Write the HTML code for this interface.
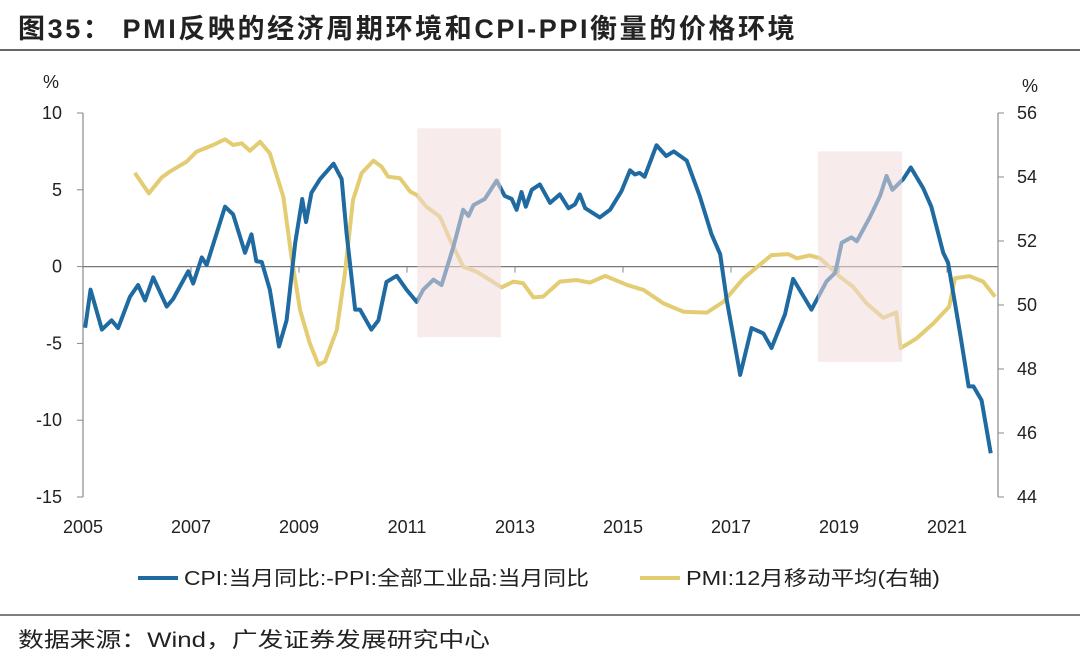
<!DOCTYPE html>
<html><head><meta charset="utf-8"><style>
body{margin:0;background:#fff;}
svg{display:block;font-family:"Liberation Sans","Noto Sans CJK SC",sans-serif;}
</style></head><body>
<svg id="c" width="1080" height="660" viewBox="0 0 1080 660">
<text x="18" y="38" font-size="27" font-weight="bold" fill="#222" letter-spacing="2.6">图35： PMI反映的经济周期环境和CPI-PPI衡量的价格环境</text>
<line x1="0" y1="50" x2="1080" y2="50" stroke="#333" stroke-width="1.5"/>
<text x="51" y="88" font-size="18" fill="#222" text-anchor="middle">%</text>
<text x="1030" y="92" font-size="18" fill="#222" text-anchor="middle">%</text>
<g id="axes"></g>
<g id="series"></g>
<g id="shades"></g>
<g>
<line x1="138" y1="578" x2="178" y2="578" stroke="#1f6aa0" stroke-width="4"/>
<text x="184" y="585" font-size="20" fill="#222" textLength="405" lengthAdjust="spacingAndGlyphs">CPI:当月同比:-PPI:全部工业品:当月同比</text>
<line x1="640" y1="578" x2="680" y2="578" stroke="#e3cc72" stroke-width="4"/>
<text x="686" y="585" font-size="20" fill="#222" textLength="254" lengthAdjust="spacingAndGlyphs">PMI:12月移动平均(右轴)</text>
</g>
<line x1="0" y1="615" x2="1080" y2="615" stroke="#333" stroke-width="1.2"/>
<text x="18" y="647" font-size="21" fill="#222" textLength="472" lengthAdjust="spacingAndGlyphs">数据来源：Wind，广发证券发展研究中心</text>
</svg>
<script>
const leftTicks=[10,5,0,-5,-10,-15];
const rightTicks=[56,54,52,50,48,46,44];
const xTicks=[2005,2007,2009,2011,2013,2015,2017,2019,2021];
const shadeStart=[2011.19,2018.61];
const shadeEnd=[2012.74,2020.17];
const shadeTopL=[9.0,7.5];
const shadeBotL=[-4.6,-6.2];
const cpiT=[2005.04,2005.14,2005.35,2005.53,2005.65,2005.87,2006.02,2006.15,2006.3,2006.55,2006.67,2006.95,2007.04,2007.2,2007.29,2007.63,2007.78,2008.0,2008.12,2008.21,2008.31,2008.46,2008.63,2008.77,2008.93,2009.06,2009.13,2009.23,2009.39,2009.64,2009.79,2009.88,2010.04,2010.13,2010.34,2010.47,2010.62,2010.81,2010.99,2011.18,2011.3,2011.49,2011.64,2011.86,2012.04,2012.14,2012.23,2012.44,2012.66,2012.81,2012.94,2013.03,2013.12,2013.2,2013.31,2013.46,2013.65,2013.83,2013.99,2014.11,2014.2,2014.3,2014.57,2014.76,2014.97,2015.13,2015.22,2015.31,2015.4,2015.62,2015.8,2015.94,2016.18,2016.42,2016.64,2016.8,2016.92,2017.01,2017.17,2017.38,2017.6,2017.75,2018.0,2018.15,2018.49,2018.77,2018.93,2019.05,2019.23,2019.33,2019.57,2019.76,2019.88,2019.99,2020.19,2020.33,2020.56,2020.71,2020.93,2021.02,2021.24,2021.4,2021.49,2021.64,2021.81];
const cpiV=[-3.98,-1.5,-4.1,-3.5,-4.0,-1.96,-1.2,-2.2,-0.7,-2.6,-2.1,-0.3,-1.1,0.6,0.1,3.9,3.4,0.9,2.1,0.35,0.3,-1.5,-5.2,-3.5,1.55,4.4,2.9,4.8,5.7,6.7,5.7,2.2,-2.8,-2.8,-4.1,-3.5,-1.0,-0.6,-1.5,-2.3,-1.5,-0.85,-1.2,1.3,3.7,3.3,4.0,4.4,5.6,4.6,4.4,3.7,4.85,3.9,5.0,5.35,4.15,4.7,3.8,4.05,4.7,3.8,3.2,3.7,4.9,6.27,6.0,6.1,5.85,7.9,7.2,7.5,6.9,4.6,2.1,0.8,-2.15,-3.9,-7.05,-4.0,-4.35,-5.3,-3.1,-0.8,-2.8,-0.96,-0.4,1.55,1.9,1.65,3.2,4.6,5.9,5.0,5.7,6.45,5.1,3.9,0.9,0.25,-4.3,-7.8,-7.8,-8.7,-12.15];
const pmiT=[2005.96,2006.22,2006.46,2006.61,2006.92,2007.1,2007.41,2007.63,2007.78,2007.94,2008.09,2008.28,2008.46,2008.71,2008.86,2009.02,2009.2,2009.36,2009.48,2009.7,2009.85,2010.0,2010.16,2010.38,2010.53,2010.65,2010.87,2011.06,2011.18,2011.36,2011.61,2011.8,2012.04,2012.29,2012.54,2012.75,2012.97,2013.15,2013.34,2013.52,2013.83,2014.14,2014.39,2014.67,2015.07,2015.38,2015.75,2016.12,2016.55,2016.86,2017.23,2017.75,2018.06,2018.22,2018.46,2018.65,2019.02,2019.26,2019.51,2019.82,2020.06,2020.14,2020.44,2020.75,2021.04,2021.15,2021.42,2021.67,2021.89];
const pmiV=[54.13,53.49,53.99,54.17,54.48,54.79,55.0,55.18,55.0,55.05,54.82,55.1,54.74,53.38,51.51,49.84,48.8,48.13,48.23,49.22,50.99,53.28,54.12,54.51,54.32,54.01,53.96,53.54,53.44,53.07,52.76,52.03,51.2,51.04,50.78,50.55,50.73,50.68,50.24,50.26,50.73,50.78,50.7,50.91,50.63,50.47,50.05,49.79,49.76,50.1,50.83,51.56,51.59,51.46,51.55,51.46,50.88,50.57,50.05,49.6,49.77,48.65,48.96,49.43,49.95,50.84,50.9,50.73,50.26];

const NS='http://www.w3.org/2000/svg';
const X0=83,X1=998,Y0=113,Y1=497;
const x=t=>X0+54*(t-2005);
const yL=v=>Y0+(10-v)*(Y1-Y0)/25;
const yR=p=>Y0+(56-p)*(Y1-Y0)/12;
function mk(tag,attrs,parent){const e=document.createElementNS(NS,tag);for(const k in attrs)e.setAttribute(k,attrs[k]);parent.appendChild(e);return e;}
const axes=document.getElementById('axes'),series=document.getElementById('series'),shades=document.getElementById('shades');
let e;
e=mk('line',{x1:X0,y1:Y0,x2:X0,y2:Y1,stroke:'#888','stroke-width':1.2},axes);


e=mk('line',{x1:X1,y1:Y0,x2:X1,y2:Y1,stroke:'#888','stroke-width':1.2},axes);


e=mk('line',{x1:X0,y1:yL(0),x2:X1,y2:yL(0),stroke:'#777','stroke-width':1.2},axes);


leftTicks.forEach(v=>{
 mk('line',{x1:X0-6,y1:yL(v),x2:X0,y2:yL(v),stroke:'#888'},axes);
 e=mk('text',{x:62,y:yL(v)+6,'font-size':18,'text-anchor':'end',fill:'#222'},axes);
 e.textContent=v;
 
 
});
rightTicks.forEach(v=>{
 mk('line',{x1:X1,y1:yR(v),x2:X1+6,y2:yR(v),stroke:'#888'},axes);
 e=mk('text',{x:1017,y:yR(v)+6,'font-size':18,fill:'#222'},axes);
 e.textContent=v;
 
 
});
xTicks.forEach(t=>{
 mk('line',{x1:x(t),y1:yL(0),x2:x(t),y2:yL(0)+6,stroke:'#888'},axes);
 e=mk('text',{x:x(t),y:533,'font-size':18,'text-anchor':'middle',fill:'#222'},axes);
 e.textContent=t;
 
 
});
e=mk('polyline',{points:pmiT.map((t,i)=>x(t)+','+yR(pmiV[i])).join(' '),fill:'none',stroke:'#e3cc72','stroke-width':4,'stroke-linejoin':'round'},series);


e=mk('polyline',{points:cpiT.map((t,i)=>x(t)+','+yL(cpiV[i])).join(' '),fill:'none',stroke:'#1f6aa0','stroke-width':4,'stroke-linejoin':'round'},series);


shadeStart.forEach((s,i)=>{
 e=mk('rect',{x:x(s),y:yL(shadeTopL[i]),width:x(shadeEnd[i])-x(s),height:yL(shadeBotL[i])-yL(shadeTopL[i]),fill:'rgba(240,218,218,0.55)'},shades);
 
 
});
</script>
</body></html>
